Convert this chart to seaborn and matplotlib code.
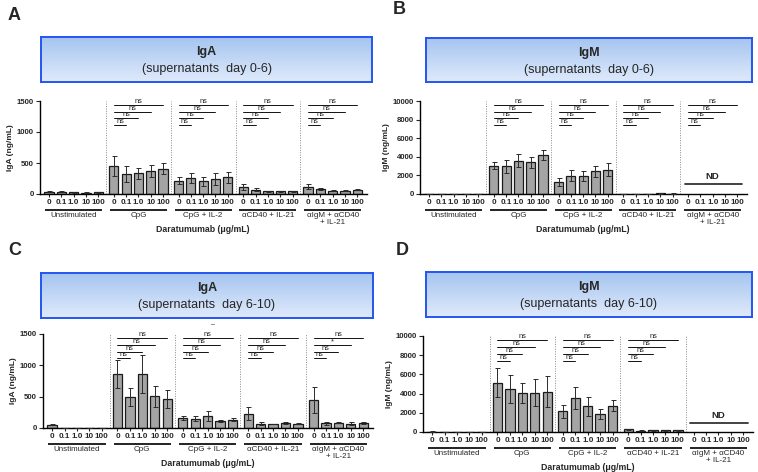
import numpy as np
import pandas as pd
import seaborn as sns
import matplotlib.pyplot as plt
from matplotlib.colors import LinearSegmentedColormap
from matplotlib.transforms import ScaledTranslation

groups = ["Unstimulated", "CpG", "CpG + IL-2", "αCD40 + IL-21", "αIgM + αCD40\n+ IL-21"]
doses = ["0", "0.1", "1.0", "10", "100"]
nan = np.nan

# mean / SEM per group (rows) and daratumumab dose (columns)
iga_d06 = [[40, 35, 30, 20, 30], [455, 321, 337, 375, 407], [214, 257, 204, 246, 268],
           [107, 72, 45, 45, 45], [120, 85, 55, 55, 70]]
iga_d06_err = [[8, 6, 6, 5, 6], [160, 124, 90, 95, 90], [60, 85, 70, 95, 90],
               [50, 25, 8, 8, 8], [40, 15, 8, 8, 8]]

igm_d06 = [[0, 0, 0, 0, 0], [3040, 2960, 3570, 3390, 4180], [1290, 1960, 1890, 2430, 2610],
           [30, 20, 20, 60, 50], [nan, nan, nan, nan, nan]]
igm_d06_err = [[0, 0, 0, 0, 0], [400, 700, 720, 570, 570], [430, 570, 535, 600, 700],
               [15, 10, 10, 30, 25], [nan, nan, nan, nan, nan]]

iga_d610 = [[48, 0, 0, 0, 0], [862, 495, 862, 505, 463], [160, 149, 186, 117, 133],
            [229, 69, 64, 80, 69], [441, 74, 85, 69, 80]]
iga_d610_err = [[8, 0, 0, 0, 0], [230, 143, 308, 170, 150], [37, 37, 80, 15, 21],
                [106, 21, 5, 16, 5], [208, 22, 5, 21, 10]]

igm_d610 = [[40, 0, 0, 0, 0], [5140, 4450, 4030, 4100, 4210], [2140, 3520, 2660, 1860, 2760],
            [280, 150, 200, 180, 200], [nan, nan, nan, nan, nan]]
igm_d610_err = [[20, 0, 0, 0, 0], [1480, 1480, 1035, 1400, 1650], [690, 1140, 1035, 552, 586],
                [80, 30, 50, 40, 50], [nan, nan, nan, nan, nan]]

# significance labels for 0 vs 0.1 / 1.0 / 10 / 100
sig_ns = ["ns", "ns", "ns", "ns"]
sig_c_aigm = ["ns", "ns", "*", "ns"]

W, H = 758, 472
sns.set_style("ticks")
plt.rcParams['font.family'] = ['Liberation Sans', 'DejaVu Sans']
fig = plt.figure(figsize=(W / 100, H / 100), dpi=100)


def rect(x0, y0, x1, y1):
    return [x0 / W, 1 - y1 / H, (x1 - x0) / W, (y1 - y0) / H]


def header(box, title, sub):
    hx = fig.add_axes(rect(*box))
    grad = np.linspace(0, 1, 64).reshape(-1, 1)
    cmap = LinearSegmentedColormap.from_list("hdr", ["#a6c5f0", "#dfeafb"])
    hx.imshow(grad, aspect="auto", cmap=cmap, extent=[0, 1, 0, 1], origin="upper")
    hx.set_xticks([])
    hx.set_yticks([])
    for s in hx.spines.values():
        s.set_color("#2356f0")
        s.set_linewidth(1.4)
    hx.text(0.5, 0.66, title, ha="center", va="center", fontsize=9, fontweight="bold")
    hx.text(0.5, 0.28, sub, ha="center", va="center", fontsize=9)


width = 0.95
step = width / len(doses)


def pos(g, i):
    return g + (i - 2) * step


panels = [
    dict(letter="A", lxy=(8, 16), box=(41, 37, 372, 82), ax=(40, 101, 367, 194),
         title="IgA", sub="(supernatants  day 0-6)", vals=iga_d06, errs=iga_d06_err,
         ymax=1500, yticks=[0, 500, 1000, 1500], ylabel="IgA (ng/mL)",
         brackets=[1, 2, 3, 4], nd=False),
    dict(letter="B", lxy=(393, 10), box=(426, 38, 752, 82), ax=(420, 101, 747, 194),
         title="IgM", sub="(supernatants  day 0-6)", vals=igm_d06, errs=igm_d06_err,
         ymax=10000, yticks=[0, 2000, 4000, 6000, 8000, 10000], ylabel="IgM (ng/mL)",
         brackets=[1, 2, 3, 4], nd=True),
    dict(letter="C", lxy=(8, 250), box=(41, 273, 373, 318), ax=(43, 334, 373, 428),
         title="IgA", sub="(supernatants  day 6-10)", vals=iga_d610, errs=iga_d610_err,
         ymax=1500, yticks=[0, 500, 1000, 1500], ylabel="IgA (ng/mL)",
         brackets=[1, 2, 3, 4], nd=False),
    dict(letter="D", lxy=(396, 250), box=(426, 272, 752, 317), ax=(423, 336, 753, 432),
         title="IgM", sub="(supernatants  day 6-10)", vals=igm_d610, errs=igm_d610_err,
         ymax=10000, yticks=[0, 2000, 4000, 6000, 8000, 10000], ylabel="IgM (ng/mL)",
         brackets=[1, 2, 3], nd=True),
]

levels = [0.74, 0.812, 0.882, 0.955]

for p in panels:
    fig.text(p["lxy"][0] / W, 1 - p["lxy"][1] / H, p["letter"], fontsize=13,
             fontweight="bold", ha="left", va="center")
    header(p["box"], p["title"], p["sub"])

    ax = fig.add_axes(rect(*p["ax"]))
    rows = []
    for g, grp in enumerate(groups):
        for i, d in enumerate(doses):
            rows.append({"group": grp, "dose": d, "value": p["vals"][g][i]})
    df = pd.DataFrame(rows)
    sns.barplot(data=df, x="group", y="value", hue="dose", order=groups, hue_order=doses,
                palette=["#a4a4a4"] * 5, width=width, gap=0.25, dodge=True,
                edgecolor="#1a1a1a", linewidth=0.9, errorbar=None, legend=False, ax=ax)

    xs = [pos(g, i) for g in range(len(groups)) for i in range(len(doses))]
    ys = np.array(p["vals"], dtype=float).ravel()
    es = np.array(p["errs"], dtype=float).ravel()
    ax.errorbar(xs, ys, yerr=es, fmt="none", ecolor="#2a2a2a", elinewidth=0.7,
                capsize=1.8, capthick=0.7, zorder=3)

    ax.set_xlim(-0.52, 4.53)
    ax.set_ylim(0, p["ymax"])
    ax.set_yticks(p["yticks"])
    ax.set_yticklabels([str(t) for t in p["yticks"]], fontsize=5.6, fontweight="bold")
    ax.set_xticks(xs)
    ax.set_xticklabels(doses * len(groups), fontsize=5.8, fontweight="bold")
    ax.tick_params(axis="x", length=2, width=0.8, pad=1.5)
    ax.tick_params(axis="y", length=3, width=0.8, pad=1.5)
    ax.set_xlabel("")
    ax.set_ylabel(p["ylabel"], fontsize=6, fontweight="bold", labelpad=2)
    for s in ["top", "right"]:
        ax.spines[s].set_visible(False)
    for s in ["left", "bottom"]:
        ax.spines[s].set_linewidth(1.0)
        ax.spines[s].set_color("black")

    # dotted separators between stimulation groups
    for g in range(len(groups) - 1):
        ax.axvline(g + 0.5, color="#8a8a8a", ls=(0, (1, 1.5)), lw=0.7, zorder=0)

    # group underline and names below the dose labels
    xt = ax.get_xaxis_transform()
    under = xt + ScaledTranslation(0, -16 / 100, fig.dpi_scale_trans)
    names = xt + ScaledTranslation(0, -18 / 100, fig.dpi_scale_trans)
    xlab = xt + ScaledTranslation(0, -35 / 100, fig.dpi_scale_trans)
    for g, grp in enumerate(groups):
        ax.plot([pos(g, 0) - 0.06, pos(g, 4) + 0.06], [0, 0], color="#111", lw=1.3,
                transform=under, clip_on=False, solid_capstyle="butt")
        ax.text(g, 0, grp, transform=names, ha="center", va="top", fontsize=5.8,
                linespacing=1.1)
    ax.text(2.0, 0, "Daratumumab (μg/mL)", transform=xlab, ha="center", va="center",
            fontsize=6.3, fontweight="bold")

    # comparison brackets vs. dose 0
    for g in p["brackets"]:
        labels = sig_c_aigm if (p["letter"] == "C" and g == 4) else sig_ns
        for k, i in enumerate([1, 2, 3, 4]):
            y = levels[k] * p["ymax"]
            x0, x1 = pos(g, 0), pos(g, i)
            ax.plot([x0, x1], [y, y], color="#111", lw=0.7)
            ax.text((x0 + x1) / 2, y, labels[k], ha="center", va="bottom", fontsize=5.3)

    if p["nd"]:
        y = 0.11 * p["ymax"] if p["letter"] == "B" else 0.095 * p["ymax"]
        ax.plot([pos(4, 0) - 0.05, pos(4, 4) + 0.08], [y, y], color="#333", lw=1.3)
        ax.text(4, y + 0.03 * p["ymax"], "ND", ha="center", va="bottom", fontsize=6.8,
                fontweight="bold")

fig.text(213 / W, 1 - 325 / H, "–", fontsize=5, ha="center", va="center")

fig.savefig("out.png", dpi=100)
